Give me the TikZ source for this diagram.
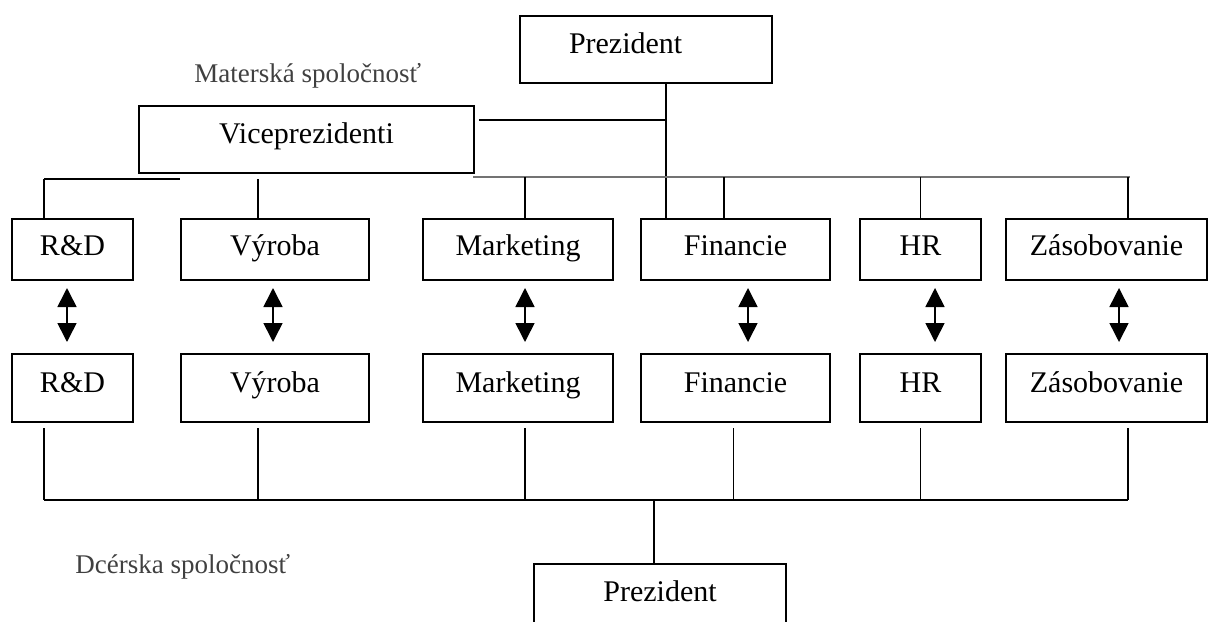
\documentclass[tikz,border=0pt]{standalone}
\usepackage{fontspec}
\setmainfont{Liberation Serif}
\usetikzlibrary{arrows.meta}

\begin{document}
\begin{tikzpicture}[x=0.5pt, y=-0.5pt,
    box/.style={draw=black, line width=1pt, fill=white, inner sep=0pt,
        font=\fontsize{15pt}{18pt}\selectfont, text height=0.7em, text depth=0.3em},
    upbox/.style={box, minimum height=30.5pt, text height=0.8em, text depth=0.25em},
    lowbox/.style={box, minimum height=34pt},
    lbl/.style={inner sep=0pt, text=black!75, font=\fontsize{13.5pt}{16pt}\selectfont},
    link/.style={draw=black, line width=0.8pt},
    graybar/.style={draw=black!55, line width=0.9pt},
    dbl/.style={line width=0.8pt, <->, >={Triangle[width=9.5pt,length=9.5pt]}}]
    \useasboundingbox (0,0) rectangle (1209,621);

    \node[box, minimum width=126pt, minimum height=33.5pt, text width=77pt, inner xsep=24.5pt, align=left] (presT) at (646,49.5) {Prezident};
    \node[box, minimum width=167.5pt, minimum height=33.5pt] (vice) at (306.5,139.5) {Viceprezidenti};
    \node[box, minimum width=126pt, minimum height=33.5pt] (presB) at (660,597.5) {Prezident};

    \node[lbl, anchor=base west] (matka) at (194,82) {Materská spoločnosť};
    \node[lbl, anchor=base west] (dcera) at (75,573) {Dcérska spoločnosť};

    % oddelenia
    \foreach \nm/\x/\w/\txt in {rd/72.5/60.5/R\&D, vy/275/94/Výroba, mk/518/95/Marketing,
        fi/735.5/94.5/Financie, hr/920.5/60.5/HR, za/1106.5/100.5/Zásobovanie} {
        \node[upbox, minimum width=\w pt] (\nm A) at (\x,249.5) {\txt};
        \node[lowbox, minimum width=\w pt] (\nm B) at (\x,388) {\txt};
    }

    \coordinate (hub) at (666,120);
    \coordinate (barL) at (44,179);
    \coordinate (barR) at (473,177);
    \coordinate (base) at (44,500);

    \draw[link] (presT.south -| hub) -- (hub) -- (hub |- fiA.north);
    \draw[link] ([xshift=2pt]vice.north east |- hub) -- (hub);
    \draw[link] (barL) -- (barL -| vyA.north west);
    \draw[link] (barL) -- (barL |- rdA.north);
    \draw[link] ([xshift=-8.5pt]vyA.north |- barL) -- ([xshift=-8.5pt]vyA.north);
    \draw[graybar] (barR) -- ([xshift=11.75pt]zaA.north |- barR);
    \foreach \nm/\ta in {mk/3.5, fi/-5.75, hr/0, za/10.75}
        \draw[link] ([xshift=\ta pt]\nm A.north |- barR) -- ([xshift=\ta pt]\nm A.north);

    \foreach \nm/\ar/\tb in {rd/-2.75/-14.25, vy/-1/-8.5, mk/3.5/3.5, fi/6.25/-1, hr/7.25/0, za/6.25/10.75} {
        \draw[dbl] ([xshift=\ar pt, yshift=-3.5pt]\nm A.south) -- ([xshift=\ar pt, yshift=5.5pt]\nm B.north);
        \draw[link] ([xshift=\tb pt, yshift=-2.5pt]\nm B.south) -- ([xshift=\tb pt]\nm B.south |- base);
    }

    \draw[link] (base) -- ([xshift=10.75pt]zaB.south |- base);
    \draw[link] ([xshift=-3pt]presB.north |- base) -- ([xshift=-3pt]presB.north);
\end{tikzpicture}
\end{document}
